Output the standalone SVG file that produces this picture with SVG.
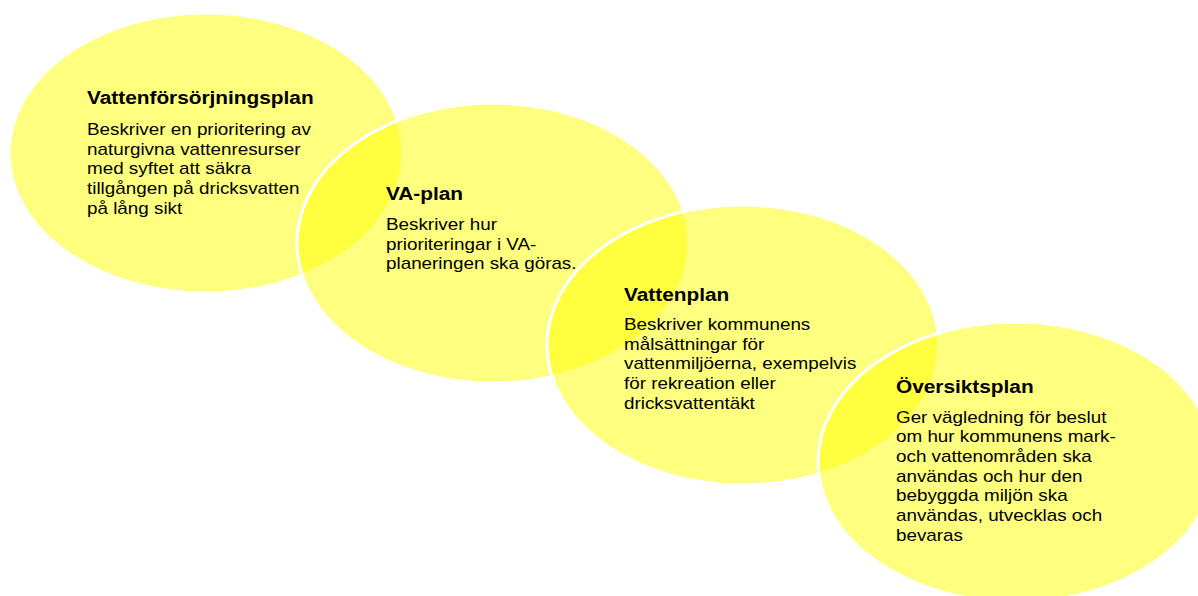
<svg xmlns="http://www.w3.org/2000/svg" width="1198" height="596" viewBox="0 0 1198 596">
<style>
.bub{fill:#FFFF00;fill-opacity:0.5;stroke:#FFFFFF;stroke-width:3.2}
.t{font-family:"Liberation Sans",Arial,sans-serif;font-weight:bold;font-size:17.8px;fill:#000}
.b{font-family:"Liberation Sans",Arial,sans-serif;font-size:16.1px;fill:#000}
</style>
<rect width="1198" height="596" fill="#FFFFFF"/>
<g id="connectors"></g>
<g id="node-vattenforsorjningsplan">
<ellipse class="bub" cx="206" cy="153" rx="197" ry="140"/>
</g>
<g id="node-va-plan">
<ellipse class="bub" cx="493" cy="243" rx="196" ry="140"/>
</g>
<g id="node-vattenplan">
<ellipse class="bub" cx="743" cy="345" rx="196" ry="140"/>
</g>
<g id="node-oversiktsplan">
<ellipse class="bub" cx="1016" cy="462" rx="198" ry="140"/>
</g>
<g id="labels">
<g transform="translate(87,0) scale(1.17,1)">
<text class="t" x="0" y="104">Vattenförsörjningsplan</text>
<text class="b" x="0" y="135">Beskriver en prioritering av</text>
<text class="b" x="0" y="154.7">naturgivna vattenresurser</text>
<text class="b" x="0" y="174.4">med syftet att säkra</text>
<text class="b" x="0" y="194.1">tillgången på dricksvatten</text>
<text class="b" x="0" y="213.8">på lång sikt</text>
</g>
<g transform="translate(386,0) scale(1.17,1)">
<text class="t" x="0" y="200.5">VA-plan</text>
<text class="b" x="0" y="230">Beskriver hur</text>
<text class="b" x="0" y="249.7">prioriteringar i VA-</text>
<text class="b" x="0" y="269.4">planeringen ska göras.</text>
</g>
<g transform="translate(624,0) scale(1.17,1)">
<text class="t" x="0" y="301">Vattenplan</text>
<text class="b" x="0" y="330">Beskriver kommunens</text>
<text class="b" x="0" y="349.7">målsättningar för</text>
<text class="b" x="0" y="369.4">vattenmiljöerna, exempelvis</text>
<text class="b" x="0" y="389.1">för rekreation eller</text>
<text class="b" x="0" y="408.8">dricksvattentäkt</text>
</g>
<g transform="translate(896,0) scale(1.17,1)">
<text class="t" x="0" y="393.3">Översiktsplan</text>
<text class="b" x="0" y="422.7">Ger vägledning för beslut</text>
<text class="b" x="0" y="442.4">om hur kommunens mark-</text>
<text class="b" x="0" y="462.1">och vattenområden ska</text>
<text class="b" x="0" y="481.8">användas och hur den</text>
<text class="b" x="0" y="501.5">bebyggda miljön ska</text>
<text class="b" x="0" y="521.2">användas, utvecklas och</text>
<text class="b" x="0" y="540.9">bevaras</text>
</g>
</g>
</svg>
